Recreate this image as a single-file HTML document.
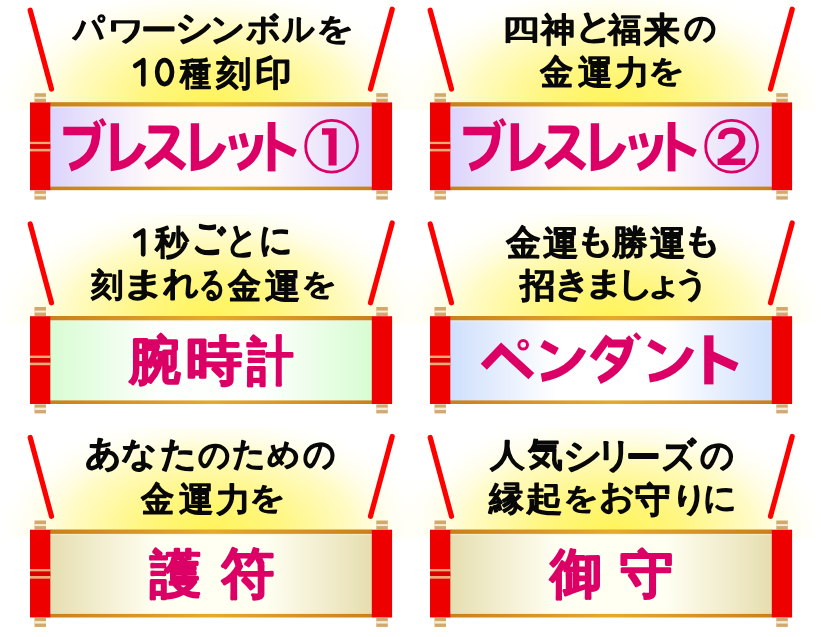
<!DOCTYPE html>
<html><head><meta charset="utf-8">
<style>
html,body{margin:0;padding:0;background:#fff;width:821px;height:637px;overflow:hidden}
svg{display:block}
.stick{stroke:#ff0000;stroke-width:5.2;stroke-linecap:round}
.cap rect{fill:#d2a86c}
.capl rect{fill:#f6ecd8}
.rod{fill:#ee0000}
.stripe{fill:#f2a878}
text{font-family:"Liberation Sans",sans-serif;stroke-linejoin:round;paint-order:stroke}
.t1{fill:#080808;stroke:#080808}
.t2{fill:#dc0066;stroke:#dc0066}
.ring{fill:none;stroke:#dc0066;stroke-width:2.8}
.num{fill:#dc0066}
.two{fill:none;stroke:#dc0066;stroke-width:6.4;stroke-linejoin:bevel}
.dg path,.dg ellipse{fill:none;stroke:#080808;stroke-width:4.7;stroke-linecap:round;stroke-linejoin:round}
.kp path,.kp circle{fill:none;stroke:#dc0066;stroke-linejoin:miter;stroke-linecap:butt}
</style></head><body>
<svg width="821" height="637" viewBox="0 0 821 637">
<defs>
<radialGradient id="glow" gradientUnits="userSpaceOnUse" cx="211" cy="104" r="222" gradientTransform="translate(211 104) scale(1 0.55) translate(-211 -104)">
<stop offset="0" stop-color="#fff45a"/><stop offset="0.3" stop-color="#fff67e"/><stop offset="0.65" stop-color="#fffbc6"/><stop offset="1" stop-color="#ffffff" stop-opacity="0"/></radialGradient>
<linearGradient id="bg0" x1="0" x2="1" y1="0" y2="0"><stop offset="0" stop-color="#dcd4fc"/><stop offset="0.33" stop-color="#fffbfb"/><stop offset="0.67" stop-color="#fffbfb"/><stop offset="1" stop-color="#dcd4fc"/></linearGradient><linearGradient id="bg1" x1="0" x2="1" y1="0" y2="0"><stop offset="0" stop-color="#dcd4fc"/><stop offset="0.33" stop-color="#fffbfb"/><stop offset="0.67" stop-color="#fffbfb"/><stop offset="1" stop-color="#dcd4fc"/></linearGradient><linearGradient id="bg2" x1="0" x2="1" y1="0" y2="0"><stop offset="0" stop-color="#d8fcd2"/><stop offset="0.33" stop-color="#fcfffc"/><stop offset="0.67" stop-color="#fcfffc"/><stop offset="1" stop-color="#d8fcd2"/></linearGradient><linearGradient id="bg3" x1="0" x2="1" y1="0" y2="0"><stop offset="0" stop-color="#cfdffc"/><stop offset="0.33" stop-color="#ffffff"/><stop offset="0.67" stop-color="#ffffff"/><stop offset="1" stop-color="#cfdffc"/></linearGradient><linearGradient id="bg4" x1="0" x2="1" y1="0" y2="0"><stop offset="0" stop-color="#e6deb0"/><stop offset="0.33" stop-color="#fffff2"/><stop offset="0.67" stop-color="#fffff2"/><stop offset="1" stop-color="#e6deb0"/></linearGradient><linearGradient id="bg5" x1="0" x2="1" y1="0" y2="0"><stop offset="0" stop-color="#e6deb0"/><stop offset="0.33" stop-color="#fffff2"/><stop offset="0.67" stop-color="#fffff2"/><stop offset="1" stop-color="#e6deb0"/></linearGradient>
<linearGradient id="bord" x1="0" x2="1" y1="0" y2="0"><stop offset="0" stop-color="#c8801c"/><stop offset="0.5" stop-color="#e2ac2a"/><stop offset="1" stop-color="#c8801c"/></linearGradient>
</defs>
<g transform="translate(0,0)">
<rect x="0" y="0" width="420" height="110" fill="url(#glow)"/>
<line x1="30.2" y1="10.2" x2="51.5" y2="89" class="stick"/>
<line x1="392.2" y1="9.2" x2="370.5" y2="89" class="stick"/>
<g class="cap"><rect x="34.5" y="93.2" width="11.5" height="9"/><rect x="376.3" y="93.2" width="11.5" height="9"/><rect x="34.5" y="190.6" width="11.5" height="9"/><rect x="376.3" y="190.6" width="11.5" height="9"/></g>
<g class="capl"><rect x="34.5" y="96.8" width="11.5" height="2"/><rect x="376.3" y="96.8" width="11.5" height="2"/><rect x="34.5" y="193.8" width="11.5" height="2.5"/><rect x="376.3" y="193.8" width="11.5" height="2.5"/></g>
<rect x="50" y="102.2" width="322" height="88" fill="url(#bord)"/>
<rect x="50" y="106.6" width="322" height="80" fill="url(#bg0)"/>
<rect x="50" y="106.6" width="322" height="1.3" fill="#fbf0dc" opacity="0.55"/>
<rect x="30" y="102.4" width="20.3" height="87.8" class="rod"/>
<rect x="371.8" y="102.4" width="20.3" height="87.8" class="rod"/>
<rect x="30" y="141.8" width="20.3" height="2.5" class="stripe"/>
<rect x="30" y="148.6" width="20.3" height="2.8" class="stripe"/>
<rect x="30" y="144.3" width="20.3" height="4.3" fill="#d80000"/>
</g><g transform="translate(400,0)">
<rect x="0" y="0" width="420" height="110" fill="url(#glow)"/>
<line x1="30.2" y1="10.2" x2="51.5" y2="89" class="stick"/>
<line x1="392.2" y1="9.2" x2="370.5" y2="89" class="stick"/>
<g class="cap"><rect x="34.5" y="93.2" width="11.5" height="9"/><rect x="376.3" y="93.2" width="11.5" height="9"/><rect x="34.5" y="190.6" width="11.5" height="9"/><rect x="376.3" y="190.6" width="11.5" height="9"/></g>
<g class="capl"><rect x="34.5" y="96.8" width="11.5" height="2"/><rect x="376.3" y="96.8" width="11.5" height="2"/><rect x="34.5" y="193.8" width="11.5" height="2.5"/><rect x="376.3" y="193.8" width="11.5" height="2.5"/></g>
<rect x="50" y="102.2" width="322" height="88" fill="url(#bord)"/>
<rect x="50" y="106.6" width="322" height="80" fill="url(#bg1)"/>
<rect x="50" y="106.6" width="322" height="1.3" fill="#fbf0dc" opacity="0.55"/>
<rect x="30" y="102.4" width="20.3" height="87.8" class="rod"/>
<rect x="371.8" y="102.4" width="20.3" height="87.8" class="rod"/>
<rect x="30" y="141.8" width="20.3" height="2.5" class="stripe"/>
<rect x="30" y="148.6" width="20.3" height="2.8" class="stripe"/>
<rect x="30" y="144.3" width="20.3" height="4.3" fill="#d80000"/>
</g><g transform="translate(0,213.8)">
<rect x="0" y="0" width="420" height="110" fill="url(#glow)"/>
<line x1="30.2" y1="10.2" x2="51.5" y2="89" class="stick"/>
<line x1="392.2" y1="9.2" x2="370.5" y2="89" class="stick"/>
<g class="cap"><rect x="34.5" y="93.2" width="11.5" height="9"/><rect x="376.3" y="93.2" width="11.5" height="9"/><rect x="34.5" y="190.6" width="11.5" height="9"/><rect x="376.3" y="190.6" width="11.5" height="9"/></g>
<g class="capl"><rect x="34.5" y="96.8" width="11.5" height="2"/><rect x="376.3" y="96.8" width="11.5" height="2"/><rect x="34.5" y="193.8" width="11.5" height="2.5"/><rect x="376.3" y="193.8" width="11.5" height="2.5"/></g>
<rect x="50" y="102.2" width="322" height="88" fill="url(#bord)"/>
<rect x="50" y="106.6" width="322" height="80" fill="url(#bg2)"/>
<rect x="50" y="106.6" width="322" height="1.3" fill="#fbf0dc" opacity="0.55"/>
<rect x="30" y="102.4" width="20.3" height="87.8" class="rod"/>
<rect x="371.8" y="102.4" width="20.3" height="87.8" class="rod"/>
<rect x="30" y="141.8" width="20.3" height="2.5" class="stripe"/>
<rect x="30" y="148.6" width="20.3" height="2.8" class="stripe"/>
<rect x="30" y="144.3" width="20.3" height="4.3" fill="#d80000"/>
</g><g transform="translate(400,213.8)">
<rect x="0" y="0" width="420" height="110" fill="url(#glow)"/>
<line x1="30.2" y1="10.2" x2="51.5" y2="89" class="stick"/>
<line x1="392.2" y1="9.2" x2="370.5" y2="89" class="stick"/>
<g class="cap"><rect x="34.5" y="93.2" width="11.5" height="9"/><rect x="376.3" y="93.2" width="11.5" height="9"/><rect x="34.5" y="190.6" width="11.5" height="9"/><rect x="376.3" y="190.6" width="11.5" height="9"/></g>
<g class="capl"><rect x="34.5" y="96.8" width="11.5" height="2"/><rect x="376.3" y="96.8" width="11.5" height="2"/><rect x="34.5" y="193.8" width="11.5" height="2.5"/><rect x="376.3" y="193.8" width="11.5" height="2.5"/></g>
<rect x="50" y="102.2" width="322" height="88" fill="url(#bord)"/>
<rect x="50" y="106.6" width="322" height="80" fill="url(#bg3)"/>
<rect x="50" y="106.6" width="322" height="1.3" fill="#fbf0dc" opacity="0.55"/>
<rect x="30" y="102.4" width="20.3" height="87.8" class="rod"/>
<rect x="371.8" y="102.4" width="20.3" height="87.8" class="rod"/>
<rect x="30" y="141.8" width="20.3" height="2.5" class="stripe"/>
<rect x="30" y="148.6" width="20.3" height="2.8" class="stripe"/>
<rect x="30" y="144.3" width="20.3" height="4.3" fill="#d80000"/>
</g><g transform="translate(0,427.3)">
<rect x="0" y="0" width="420" height="110" fill="url(#glow)"/>
<line x1="30.2" y1="10.2" x2="51.5" y2="89" class="stick"/>
<line x1="392.2" y1="9.2" x2="370.5" y2="89" class="stick"/>
<g class="cap"><rect x="34.5" y="93.2" width="11.5" height="9"/><rect x="376.3" y="93.2" width="11.5" height="9"/><rect x="34.5" y="190.6" width="11.5" height="9"/><rect x="376.3" y="190.6" width="11.5" height="9"/></g>
<g class="capl"><rect x="34.5" y="96.8" width="11.5" height="2"/><rect x="376.3" y="96.8" width="11.5" height="2"/><rect x="34.5" y="193.8" width="11.5" height="2.5"/><rect x="376.3" y="193.8" width="11.5" height="2.5"/></g>
<rect x="50" y="102.2" width="322" height="88" fill="url(#bord)"/>
<rect x="50" y="106.6" width="322" height="80" fill="url(#bg4)"/>
<rect x="50" y="106.6" width="322" height="1.3" fill="#fbf0dc" opacity="0.55"/>
<rect x="30" y="102.4" width="20.3" height="87.8" class="rod"/>
<rect x="371.8" y="102.4" width="20.3" height="87.8" class="rod"/>
<rect x="30" y="141.8" width="20.3" height="2.5" class="stripe"/>
<rect x="30" y="148.6" width="20.3" height="2.8" class="stripe"/>
<rect x="30" y="144.3" width="20.3" height="4.3" fill="#d80000"/>
</g><g transform="translate(400,427.3)">
<rect x="0" y="0" width="420" height="110" fill="url(#glow)"/>
<line x1="30.2" y1="10.2" x2="51.5" y2="89" class="stick"/>
<line x1="392.2" y1="9.2" x2="370.5" y2="89" class="stick"/>
<g class="cap"><rect x="34.5" y="93.2" width="11.5" height="9"/><rect x="376.3" y="93.2" width="11.5" height="9"/><rect x="34.5" y="190.6" width="11.5" height="9"/><rect x="376.3" y="190.6" width="11.5" height="9"/></g>
<g class="capl"><rect x="34.5" y="96.8" width="11.5" height="2"/><rect x="376.3" y="96.8" width="11.5" height="2"/><rect x="34.5" y="193.8" width="11.5" height="2.5"/><rect x="376.3" y="193.8" width="11.5" height="2.5"/></g>
<rect x="50" y="102.2" width="322" height="88" fill="url(#bord)"/>
<rect x="50" y="106.6" width="322" height="80" fill="url(#bg5)"/>
<rect x="50" y="106.6" width="322" height="1.3" fill="#fbf0dc" opacity="0.55"/>
<rect x="30" y="102.4" width="20.3" height="87.8" class="rod"/>
<rect x="371.8" y="102.4" width="20.3" height="87.8" class="rod"/>
<rect x="30" y="141.8" width="20.3" height="2.5" class="stripe"/>
<rect x="30" y="148.6" width="20.3" height="2.8" class="stripe"/>
<rect x="30" y="144.3" width="20.3" height="4.3" fill="#d80000"/>
</g>
<g style="will-change:transform"><text class="t1" transform="translate(73.37 40.14) scale(0.980 1.069)" font-size="32" stroke-width="1.8">パ</text><text class="t1" transform="translate(107.27 40.40) scale(1.182 0.883)" font-size="32" stroke-width="1.8">ワ</text><text class="t1" transform="translate(140.77 41.40) scale(1.130 1.011)" font-size="32" stroke-width="1.8">ー</text><text class="t1" transform="translate(175.43 39.98) scale(1.174 1.118)" font-size="32" stroke-width="1.8">シ</text><text class="t1" transform="translate(210.10 40.80) scale(1.088 1.068)" font-size="32" stroke-width="1.8">ン</text><text class="t1" transform="translate(246.13 39.65) scale(1.056 1.019)" font-size="32" stroke-width="1.8">ボ</text><text class="t1" transform="translate(282.36 39.93) scale(1.004 1.036)" font-size="32" stroke-width="1.8">ル</text><text class="t1" transform="translate(315.65 38.61) scale(1.161 0.928)" font-size="32" stroke-width="1.8">を</text><text class="t1" transform="translate(179.56 84.56) scale(0.986 1.108)" font-size="32" stroke-width="1.8">種</text><text class="t1" transform="translate(216.47 84.59) scale(1.084 1.047)" font-size="32" stroke-width="1.8">刻</text><text class="t1" transform="translate(254.54 85.12) scale(1.142 1.091)" font-size="32" stroke-width="1.8">印</text><text class="t1" transform="translate(501.85 38.97) scale(1.170 0.865)" font-size="32" stroke-width="1.8">四</text><text class="t1" transform="translate(541.36 40.73) scale(1.064 1.030)" font-size="32" stroke-width="1.8">神</text><text class="t1" transform="translate(574.53 38.30) scale(1.152 1.081)" font-size="32" stroke-width="1.8">と</text><text class="t1" transform="translate(608.24 40.73) scale(1.045 1.030)" font-size="32" stroke-width="1.8">福</text><text class="t1" transform="translate(644.28 41.50) scale(1.121 1.096)" font-size="32" stroke-width="1.8">来</text><text class="t1" transform="translate(684.45 39.33) scale(1.009 1.042)" font-size="32" stroke-width="1.8">の</text><text class="t1" transform="translate(539.99 84.40) scale(1.047 1.100)" font-size="32" stroke-width="1.8">金</text><text class="t1" transform="translate(577.59 84.11) scale(1.076 1.056)" font-size="32" stroke-width="1.8">運</text><text class="t1" transform="translate(615.39 83.95) scale(1.092 1.038)" font-size="32" stroke-width="1.8">力</text><text class="t1" transform="translate(647.98 81.43) scale(1.110 0.925)" font-size="32" stroke-width="1.8">を</text><text class="t1" transform="translate(155.01 254.15) scale(1.049 1.064)" font-size="32" stroke-width="1.8">秒</text><text class="t1" transform="translate(191.98 251.22) scale(1.022 1.248)" font-size="32" stroke-width="1.8">ご</text><text class="t1" transform="translate(225.69 251.75) scale(0.967 1.131)" font-size="32" stroke-width="1.8">と</text><text class="t1" transform="translate(258.73 252.48) scale(1.020 1.117)" font-size="32" stroke-width="1.8">に</text><text class="t1" transform="translate(91.24 296.24) scale(1.011 0.999)" font-size="32" stroke-width="1.8">刻</text><text class="t1" transform="translate(120.76 294.92) scale(1.419 1.046)" font-size="32" stroke-width="1.8">ま</text><text class="t1" transform="translate(162.90 295.34) scale(1.109 1.067)" font-size="32" stroke-width="1.8">れ</text><text class="t1" transform="translate(198.85 296.31) scale(0.819 1.102)" font-size="32" stroke-width="1.8">る</text><text class="t1" transform="translate(227.99 297.87) scale(1.047 1.107)" font-size="32" stroke-width="1.8">金</text><text class="t1" transform="translate(265.29 297.59) scale(1.105 1.063)" font-size="32" stroke-width="1.8">運</text><text class="t1" transform="translate(301.06 294.19) scale(1.121 0.915)" font-size="32" stroke-width="1.8">を</text><text class="t2" transform="translate(129.04 378.35) scale(1.026 1.031)" font-size="50" stroke-width="3.0">腕</text><text class="t2" transform="translate(186.38 378.69) scale(1.133 1.064)" font-size="50" stroke-width="3.0">時</text><text class="t2" transform="translate(247.17 378.54) scale(0.938 1.045)" font-size="50" stroke-width="3.0">計</text><text class="t1" transform="translate(506.20 255.05) scale(1.082 1.114)" font-size="32" stroke-width="1.8">金</text><text class="t1" transform="translate(543.09 254.74) scale(1.134 1.076)" font-size="32" stroke-width="1.8">運</text><text class="t1" transform="translate(575.87 252.00) scale(1.189 1.068)" font-size="32" stroke-width="1.8">も</text><text class="t1" transform="translate(612.43 254.33) scale(1.111 1.056)" font-size="32" stroke-width="1.8">勝</text><text class="t1" transform="translate(650.39 254.74) scale(1.134 1.076)" font-size="32" stroke-width="1.8">運</text><text class="t1" transform="translate(683.17 252.00) scale(1.189 1.068)" font-size="32" stroke-width="1.8">も</text><text class="t1" transform="translate(520.37 297.10) scale(1.111 1.061)" font-size="32" stroke-width="1.8">招</text><text class="t1" transform="translate(554.37 295.23) scale(1.131 1.068)" font-size="32" stroke-width="1.8">き</text><text class="t1" transform="translate(583.76 293.74) scale(1.244 0.990)" font-size="32" stroke-width="1.8">ま</text><text class="t1" transform="translate(616.99 294.98) scale(1.105 1.048)" font-size="32" stroke-width="1.8">し</text><text class="t1" transform="translate(643.93 295.45) scale(1.216 0.984)" font-size="32" stroke-width="1.8">ょ</text><text class="t1" transform="translate(673.65 294.95) scale(1.099 1.036)" font-size="32" stroke-width="1.8">う</text><text class="t1" transform="translate(85.28 465.05) scale(1.116 1.080)" font-size="32" stroke-width="1.8">あ</text><text class="t1" transform="translate(121.26 465.30) scale(1.113 1.032)" font-size="32" stroke-width="1.8">な</text><text class="t1" transform="translate(159.64 465.57) scale(1.122 1.086)" font-size="32" stroke-width="1.8">た</text><text class="t1" transform="translate(197.65 465.61) scale(1.009 1.046)" font-size="32" stroke-width="1.8">の</text><text class="t1" transform="translate(231.92 464.74) scale(1.045 1.036)" font-size="32" stroke-width="1.8">た</text><text class="t1" transform="translate(266.91 465.02) scale(1.025 0.975)" font-size="32" stroke-width="1.8">め</text><text class="t1" transform="translate(303.25 466.39) scale(0.993 1.082)" font-size="32" stroke-width="1.8">の</text><text class="t1" transform="translate(140.99 511.40) scale(1.047 1.100)" font-size="32" stroke-width="1.8">金</text><text class="t1" transform="translate(178.59 511.11) scale(1.076 1.056)" font-size="32" stroke-width="1.8">運</text><text class="t1" transform="translate(216.39 510.95) scale(1.092 1.038)" font-size="32" stroke-width="1.8">力</text><text class="t1" transform="translate(248.98 508.43) scale(1.110 0.925)" font-size="32" stroke-width="1.8">を</text><text class="t2" transform="translate(150.44 591.70) scale(1.033 1.050)" font-size="50" stroke-width="3.0">護</text><text class="t2" transform="translate(220.84 591.51) scale(1.061 1.074)" font-size="50" stroke-width="3.0">符</text><text class="t1" transform="translate(489.58 465.85) scale(1.112 1.013)" font-size="32" stroke-width="1.8">人</text><text class="t1" transform="translate(528.24 466.33) scale(1.102 1.075)" font-size="32" stroke-width="1.8">気</text><text class="t1" transform="translate(562.93 467.51) scale(1.217 1.136)" font-size="32" stroke-width="1.8">シ</text><text class="t1" transform="translate(595.62 467.20) scale(1.130 1.106)" font-size="32" stroke-width="1.8">リ</text><text class="t1" transform="translate(625.64 469.80) scale(1.094 1.166)" font-size="32" stroke-width="1.8">ー</text><text class="t1" transform="translate(661.15 467.93) scale(1.073 1.148)" font-size="32" stroke-width="1.8">ズ</text><text class="t1" transform="translate(699.94 466.59) scale(1.041 1.082)" font-size="32" stroke-width="1.8">の</text><text class="t1" transform="translate(489.41 509.79) scale(1.085 1.057)" font-size="32" stroke-width="1.8">縁</text><text class="t1" transform="translate(525.53 509.95) scale(1.158 1.040)" font-size="32" stroke-width="1.8">起</text><text class="t1" transform="translate(563.11 507.56) scale(1.099 0.902)" font-size="32" stroke-width="1.8">を</text><text class="t1" transform="translate(598.63 507.74) scale(1.109 1.066)" font-size="32" stroke-width="1.8">お</text><text class="t1" transform="translate(634.64 511.91) scale(1.117 1.098)" font-size="32" stroke-width="1.8">守</text><text class="t1" transform="translate(671.12 510.37) scale(1.133 1.017)" font-size="32" stroke-width="1.8">り</text><text class="t1" transform="translate(703.13 509.33) scale(1.020 1.016)" font-size="32" stroke-width="1.8">に</text><text class="t2" transform="translate(549.81 591.50) scale(1.046 1.069)" font-size="50" stroke-width="3.0">御</text><text class="t2" transform="translate(620.16 592.10) scale(1.077 1.025)" font-size="50" stroke-width="3.0">守</text></g>
<circle cx="331.6" cy="146.3" r="25.9" class="ring"/>
<path d="M322 128.2H336.6V165.6H328.5V134.8H322Z" class="num"/>
<circle cx="731.6" cy="146.3" r="25.9" class="ring"/>
<path class="two" d="M721.2 139C721.2 132.5 725.8 130.6 731.8 130.6C738.5 130.6 742.2 134.6 742.2 140.2C742.2 145.6 738.5 149 733 153C727 157.5 721.5 160 721 162M717.6 161.7H745.3"/>

<g class="dg">
<path d="M143.3 60.2V84.3M143.3 60.4L135.2 65.8"/>
<ellipse cx="164.6" cy="72.1" rx="7.4" ry="12"/>
<path d="M143.2 230.5V254.3M143.2 230.7L135.3 235.8"/>
</g>
<g class="kp">
<path d="M63.3 131H96.3C96.3 150 88 161.5 70 167.5" stroke-width="8.4"/>
<path d="M94.8 121.5L98.4 127.6M100.8 119.2L104.6 125.7" stroke-width="4.5"/>
<path d="M114.85 123.3V166.5C127 165 137 157 142.5 144.5" stroke-width="8.3"/>
<path d="M148.5 129.5H171.5Q176.5 129.5 175 134.2C170 147 160 158 146.4 166.3" stroke-width="8.2"/>
<path d="M163 151.5L184 167.3" stroke-width="8"/>
<path d="M194.95 123.3V166.5C207.1 165 217.1 157 222.6 144.5" stroke-width="8.3"/>
<path d="M231.5 135.9L234.7 149.6M242 133.7L245.7 147.2" stroke-width="6.5"/>
<path d="M259.2 135C259 152 252 162 238.4 167.5" stroke-width="8"/>
<path d="M271.6 122V171.4" stroke-width="7.8"/>
<path d="M271.6 141.9L295 153.4" stroke-width="8.3"/>
</g>
<g class="kp" transform="translate(400 0)">
<path d="M63.3 131H96.3C96.3 150 88 161.5 70 167.5" stroke-width="8.4"/>
<path d="M94.8 121.5L98.4 127.6M100.8 119.2L104.6 125.7" stroke-width="4.5"/>
<path d="M114.85 123.3V166.5C127 165 137 157 142.5 144.5" stroke-width="8.3"/>
<path d="M148.5 129.5H171.5Q176.5 129.5 175 134.2C170 147 160 158 146.4 166.3" stroke-width="8.2"/>
<path d="M163 151.5L184 167.3" stroke-width="8"/>
<path d="M194.95 123.3V166.5C207.1 165 217.1 157 222.6 144.5" stroke-width="8.3"/>
<path d="M231.5 135.9L234.7 149.6M242 133.7L245.7 147.2" stroke-width="6.5"/>
<path d="M259.2 135C259 152 252 162 238.4 167.5" stroke-width="8"/>
<path d="M271.6 122V171.4" stroke-width="7.8"/>
<path d="M271.6 141.9L295 153.4" stroke-width="8.3"/>
</g>
<g class="kp">
<path d="M483.8 366.7L501.3 348.5L531.3 376.2" stroke-width="8.5"/>
<circle cx="523.2" cy="344.8" r="4.3" stroke-width="3"/>
<path d="M542.3 343.4L556.9 351.4" stroke-width="8"/>
<path d="M541.5 377.7C558 375 574 366 582.5 349.2" stroke-width="8.5"/>
<path d="M609.1 336.8L593 358.7" stroke-width="8"/>
<path d="M608 343.5H629C626 360 615 373 599 380.5" stroke-width="8"/>
<path d="M606.9 355.8L620.1 363.1" stroke-width="7.5"/>
<path d="M627.4 336.8L631.8 341.9M634.7 333.8L639.8 339" stroke-width="4.5"/>
<path d="M649.3 342.6L664.7 351.4" stroke-width="8"/>
<path d="M649.3 378.4C666 376 682 367 690.3 348.5" stroke-width="8.5"/>
<path d="M708.85 335.3V384.4" stroke-width="9.3"/>
<path d="M708.85 354.3L736.6 367.2" stroke-width="9"/>
</g>

</svg>
</body></html>
